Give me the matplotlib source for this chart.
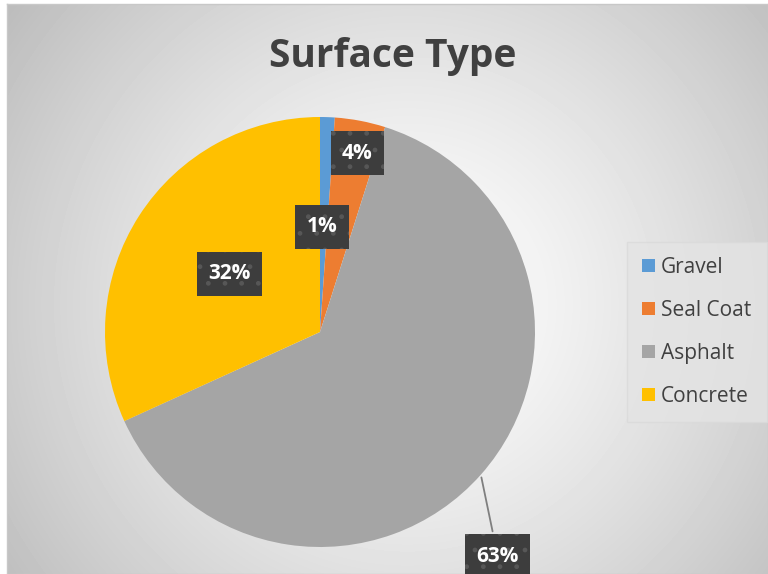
import numpy as np
import matplotlib.pyplot as plt

# data
labels = ['Gravel', 'Seal Coat', 'Asphalt', 'Concrete']
values = [1.1, 3.8, 63.3, 31.8]
pct_text = ['1%', '4%', '63%', '32%']
colors = ['#5b9bd5', '#ed7d31', '#a5a5a5', '#ffc000']

W, H = 768, 574
fig = plt.figure(figsize=(W / 100, H / 100), dpi=100)
fig.patch.set_facecolor('white')

# chart area with radial gradient background
bg = fig.add_axes([7 / W, 0, (W - 7) / W, (H - 4) / H])
yy, xx = np.mgrid[0:570, 0:761]
r = np.hypot(xx - 400, yy - 300) / 480.0
shade = 1 - 0.25 * np.clip(r, 0, 1.1) ** 1.3
bg.imshow(shade, cmap='gray', vmin=0, vmax=1, aspect='auto', interpolation='bilinear')
bg.set_xticks([])
bg.set_yticks([])
for s in bg.spines.values():
    s.set_color('#c8c8c8')
    s.set_linewidth(1)

fig.text(393 / W, 1 - 57 / H, 'Surface Type', ha='center', va='center',
         fontsize=28, fontweight='bold', color='#404040', family='Open Sans')

# pie
cx, cy, rad = 320, 332, 215
ax = fig.add_axes([(cx - rad) / W, (H - cy - rad) / H, 2 * rad / W, 2 * rad / H])
wedges, _ = ax.pie(values, colors=colors, startangle=90, counterclock=False,
                   wedgeprops=dict(linewidth=0))
ax.set_xlim(-1, 1)
ax.set_ylim(-1, 1)
ax.set_aspect('auto')
ax.axis('off')

plt.rcParams['hatch.linewidth'] = 1.0
# label placement: distance from centre and angle tweak (deg)
dists = [0.49, 0.85, 1.33, 0.5]
shifts = [1.0, -1.0, -10.0, 0.0]
box = dict(boxstyle='square,pad=0.55', fc='#3d3d3d', ec='#575757', lw=0, hatch='.')
for w, t, d, sh in zip(wedges, pct_text, dists, shifts):
    mid = np.deg2rad((w.theta1 + w.theta2) / 2)
    lab = np.deg2rad((w.theta1 + w.theta2) / 2 + sh)
    pos = (d * np.cos(lab), d * np.sin(lab))
    if d > 1:
        ax.annotate(t, xy=(np.cos(mid), np.sin(mid)), xytext=pos,
                    ha='center', va='center', fontsize=15, fontweight='bold',
                    color='white', family='Open Sans', bbox=box,
                    arrowprops=dict(arrowstyle='-', color='#7f7f7f', lw=1.3),
                    annotation_clip=False)
    else:
        ax.text(*pos, t, ha='center', va='center',
                fontsize=15, fontweight='bold', color='white',
                family='Open Sans', bbox=box)

leg = fig.legend(wedges, labels, loc='center left',
                 bbox_to_anchor=(633 / W, 1 - 332 / H), frameon=True,
                 labelspacing=1.05, handlelength=0.6,
                 handleheight=0.6, handletextpad=0.3, borderpad=0.45,
                 borderaxespad=0, prop=dict(family='Open Sans', size=15))
leg.get_frame().set_facecolor('#e4e4e4')
leg.get_frame().set_edgecolor('#dadada')
leg.get_frame().set_boxstyle('square')
for txt in leg.get_texts():
    txt.set_color('#404040')

fig.savefig('out.png', dpi=100)
